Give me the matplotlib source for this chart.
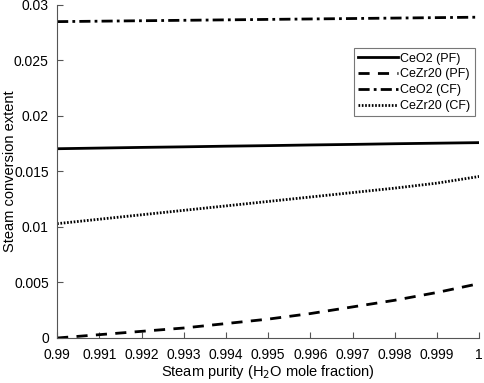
import matplotlib
matplotlib.use("Agg")
import matplotlib.pyplot as plt
import numpy as np

plt.rcParams['font.family'] = ['Liberation Sans', 'DejaVu Sans']

x = [0.990, 0.991, 0.992, 0.993, 0.994, 0.995, 0.996, 0.997, 0.998, 0.999, 1.000]
ceo2_pf = [0.01705, 0.01711, 0.01717, 0.01722, 0.01728, 0.01733, 0.01739, 0.01744, 0.01750, 0.01755, 0.01760]
cezr20_pf = [0.0000, 0.0003, 0.0006, 0.0009, 0.0013, 0.0017, 0.0022, 0.0028, 0.0034, 0.0041, 0.0049]
ceo2_cf = [0.02850, 0.02854, 0.02858, 0.02862, 0.02866, 0.02870, 0.02874, 0.02878, 0.02882, 0.02886, 0.02890]
cezr20_cf = [0.01030, 0.01070, 0.01110, 0.01150, 0.01190, 0.01230, 0.01270, 0.01310, 0.01350, 0.01395, 0.01455]
labels = ['CeO2 (PF)', 'CeZr20 (PF)', 'CeO2 (CF)', 'CeZr20 (CF)']

fig = plt.figure(figsize=(4.84, 3.83), dpi=100)
ax = fig.add_axes([0.118, 0.1175, 0.872, 0.8695])

ax.plot(x, ceo2_pf, color='black', lw=2.0, ls='-', label=labels[0])
ax.plot(x, cezr20_pf, color='black', lw=2.0, ls=(0, (4, 3)), label=labels[1])
ax.plot(x, ceo2_cf, color='black', lw=2.0, ls=(0, (4, 1.5, 1, 1.5)), label=labels[2])
ax.plot(x, cezr20_cf, color='black', lw=2.0, ls=(0, (0.6, 0.6)), label=labels[3])

ax.set_xlim(0.99, 1.0)
ax.set_ylim(0, 0.03)
ax.set_xticks([0.99, 0.991, 0.992, 0.993, 0.994, 0.995, 0.996, 0.997, 0.998, 0.999, 1.0])
ax.set_xticklabels(['0.99', '0.991', '0.992', '0.993', '0.994', '0.995', '0.996', '0.997', '0.998', '0.999', '1'])
ax.set_yticks([0, 0.005, 0.01, 0.015, 0.02, 0.025, 0.03])
ax.set_yticklabels(['0', '0.005', '0.01', '0.015', '0.02', '0.025', '0.03'])
ax.tick_params(direction='in', length=4, labelsize=10, color='#555555')
ax.tick_params(axis='x', pad=7)
ax.tick_params(axis='y', pad=6)
for s in ['top', 'right']:
    ax.spines[s].set_visible(False)
for s in ['left', 'bottom']:
    ax.spines[s].set_color('#555555')

ax.set_xlabel('Steam purity (H$_2$O mole fraction)', fontsize=10.5, labelpad=1)
ax.set_ylabel('Steam conversion extent', fontsize=10.5)
ax.yaxis.set_label_coords(-0.094, 0.5)

leg = ax.legend(loc='upper right', bbox_to_anchor=(0.99, 0.87), fontsize=9, frameon=True,
                fancybox=False, edgecolor='#555555', handlelength=3.2, handletextpad=0.2,
                borderpad=0.35, labelspacing=0.3, borderaxespad=0)
leg.get_frame().set_linewidth(0.8)

fig.savefig('out.png', dpi=100)
